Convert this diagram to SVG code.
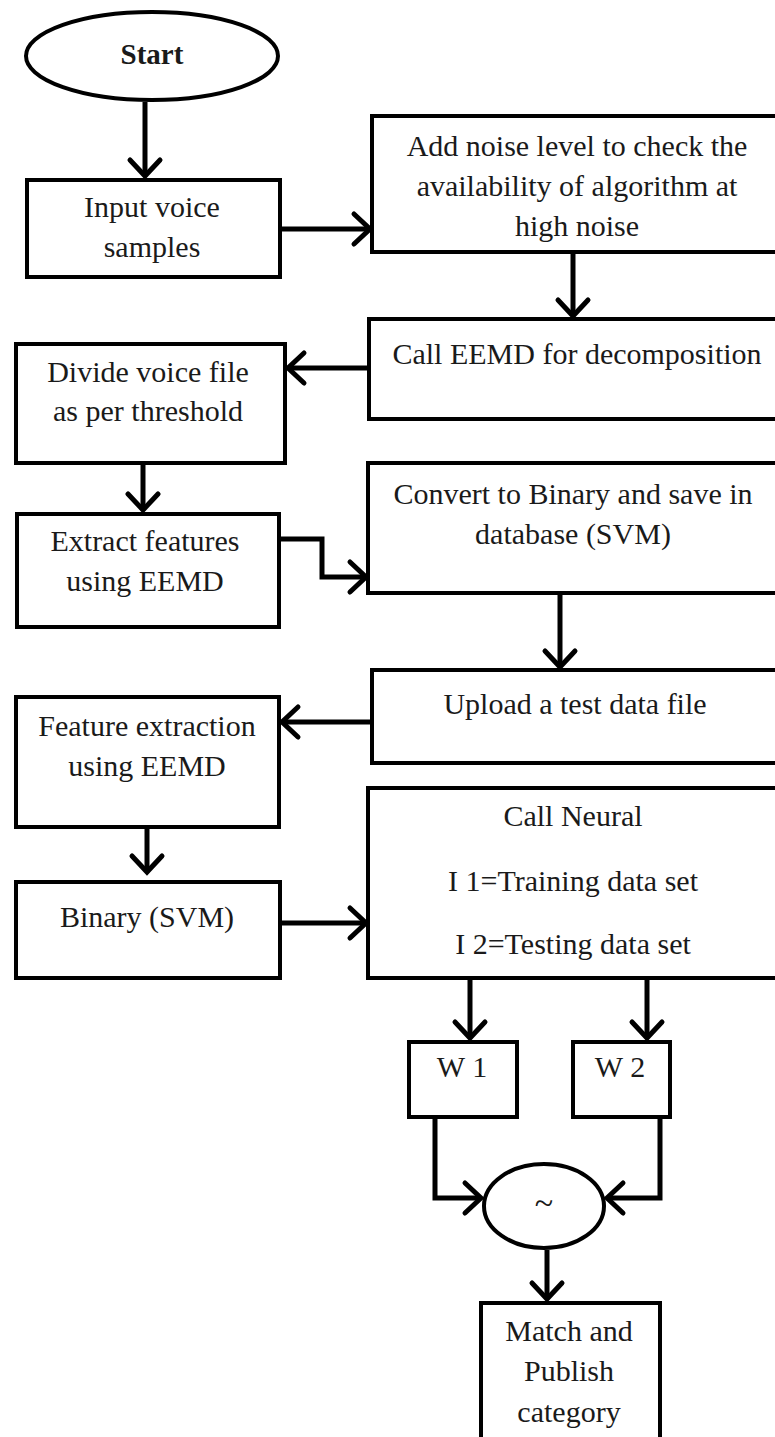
<svg xmlns="http://www.w3.org/2000/svg" width="775" height="1437" viewBox="0 0 775 1437">
<style>
.box{fill:#fff;stroke:#000;stroke-width:4}
.ln{fill:none;stroke:#000;stroke-width:5}
.t{font-family:"Liberation Serif","Times New Roman",serif;font-size:30px;fill:#1a1a1a;text-anchor:middle}
.b{font-weight:bold;font-size:29px}
</style>
<defs>
<marker id="ah" markerUnits="userSpaceOnUse" viewBox="-20 -20 24 40" refX="0" refY="0" markerWidth="24" markerHeight="40" orient="auto">
<path d="M-16,-15 L0,0 L-16,15" fill="none" stroke="#000" stroke-width="5" stroke-linecap="round" stroke-linejoin="miter"/>
</marker>
</defs>
<rect width="775" height="1437" fill="#fff"/>
<g id="connectors">
<path class="ln" d="M145,102 V176" marker-end="url(#ah)"/>
<path class="ln" d="M281,229 H370" marker-end="url(#ah)"/>
<path class="ln" d="M573,254 V316" marker-end="url(#ah)"/>
<path class="ln" d="M368,368 H288" marker-end="url(#ah)"/>
<path class="ln" d="M143,465 V510" marker-end="url(#ah)"/>
<path class="ln" d="M281,539 H322 V577 H366" marker-end="url(#ah)"/>
<path class="ln" d="M560,595 V667" marker-end="url(#ah)"/>
<path class="ln" d="M372,722 H282" marker-end="url(#ah)"/>
<path class="ln" d="M147,829 V872" marker-end="url(#ah)"/>
<path class="ln" d="M282,923 H366" marker-end="url(#ah)"/>
<path class="ln" d="M470,980 V1038" marker-end="url(#ah)"/>
<path class="ln" d="M647,980 V1038" marker-end="url(#ah)"/>
<path class="ln" d="M435,1119 V1198 H481" marker-end="url(#ah)"/>
<path class="ln" d="M660,1119 V1198 H607" marker-end="url(#ah)"/>
<path class="ln" d="M547,1250 V1299" marker-end="url(#ah)"/>
</g>
<g id="start">
<ellipse class="box" cx="152" cy="56" rx="126" ry="44"/>
<text class="t b" x="152" y="64">Start</text>
</g>
<g id="input">
<rect class="box" x="27" y="180" width="253" height="97"/>
<text class="t" x="152" y="217">Input voice</text>
<text class="t" x="152" y="257">samples</text>
</g>
<g id="noise">
<rect class="box" x="372" y="116" width="410" height="136"/>
<text class="t" x="577" y="156">Add noise level to check the</text>
<text class="t" x="577" y="196">availability of algorithm at</text>
<text class="t" x="577" y="236">high noise</text>
</g>
<g id="eemd">
<rect class="box" x="369" y="319" width="413" height="100"/>
<text class="t" x="577" y="364">Call EEMD for decomposition</text>
</g>
<g id="divide">
<rect class="box" x="16" y="344" width="269" height="119"/>
<text class="t" x="148" y="382">Divide voice file</text>
<text class="t" x="148" y="421">as per threshold</text>
</g>
<g id="extract">
<rect class="box" x="17" y="514" width="262" height="113"/>
<text class="t" x="145" y="551">Extract features</text>
<text class="t" x="145" y="591">using EEMD</text>
</g>
<g id="convert">
<rect class="box" x="368" y="463" width="414" height="130"/>
<text class="t" x="573" y="504">Convert to Binary and save in</text>
<text class="t" x="573" y="544">database (SVM)</text>
</g>
<g id="upload">
<rect class="box" x="372" y="670" width="410" height="93"/>
<text class="t" x="575" y="714">Upload a test data file</text>
</g>
<g id="feature">
<rect class="box" x="16" y="697" width="263" height="130"/>
<text class="t" x="147" y="736">Feature extraction</text>
<text class="t" x="147" y="776">using EEMD</text>
</g>
<g id="binary">
<rect class="box" x="16" y="882" width="264" height="96"/>
<text class="t" x="147" y="927">Binary (SVM)</text>
</g>
<g id="neural">
<rect class="box" x="368" y="788" width="414" height="190"/>
<text class="t" x="573" y="826">Call Neural</text>
<text class="t" x="573" y="891">I 1=Training data set</text>
<text class="t" x="573" y="954">I 2=Testing data set</text>
</g>
<g id="w1">
<rect class="box" x="409" y="1042" width="108" height="75"/>
<text class="t" x="462" y="1077">W 1</text>
</g>
<g id="w2">
<rect class="box" x="573" y="1042" width="97" height="75"/>
<text class="t" x="620" y="1077">W 2</text>
</g>
<g id="tilde">
<ellipse class="box" cx="544" cy="1206" rx="60" ry="42"/>
<text class="t" x="544" y="1214" style="font-size:34px">~</text>
</g>
<g id="match">
<rect class="box" x="481" y="1303" width="179" height="150"/>
<text class="t" x="569" y="1341">Match and</text>
<text class="t" x="569" y="1381">Publish</text>
<text class="t" x="569" y="1422">category</text>
</g>
</svg>
